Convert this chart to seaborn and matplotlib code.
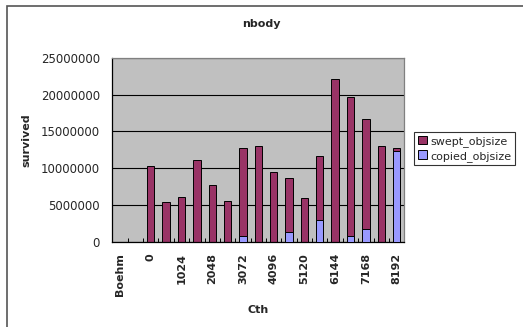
import matplotlib
matplotlib.use("Agg")
import matplotlib.pyplot as plt
from matplotlib.patches import Rectangle, Patch
import numpy as np
import pandas as pd
import seaborn as sns

# Categories along the Cth axis (only every other one is labelled)
categories = ["Boehm", "", "0", "512", "1024", "1536", "2048", "2560", "3072",
              "3584", "4096", "4608", "5120", "5632", "6144", "6656", "7168",
              "7680", "8192"]
swept_objsize = [0, 0, 10310000, 5380000, 6060000, 11120000, 7730000, 5560000,
                 12700000, 13020000, 9450000, 8630000, 5920000, 11710000,
                 22110000, 19620000, 16680000, 13020000, 12700000]
copied_objsize = [0, 0, 0, 0, 0, 0, 0, 0, 770000, 0, 0, 1360000, 0, 2940000,
                  0, 860000, 1720000, 0, 12300000]
yticks = [0, 5000000, 10000000, 15000000, 20000000, 25000000]

sns.set_style("white")
plt.rcParams["font.family"] = ["DejaVu Sans"]

W, H = 523, 327
fig = plt.figure(figsize=(W / 100, H / 100), dpi=100)
fig.patch.set_facecolor("white")

left, right, top, bottom = 112.3, 404.3, 57.7, 242.0
ax = fig.add_axes([left / W, 1 - bottom / H, (right - left) / W, (bottom - top) / H])
ax.set_facecolor("#C0C0C0")

swept_df = pd.DataFrame({"Cth": categories, "survived": swept_objsize})
copied_df = pd.DataFrame({"Cth": categories, "survived": copied_objsize})

maroon = "#993366"
lilac = "#9999FF"

ax.set_axisbelow(True)
sns.barplot(data=swept_df, x="Cth", y="survived", order=categories, color=maroon,
            width=0.48, edgecolor="black", linewidth=0.7, saturation=1, ax=ax,
            zorder=2)
sns.barplot(data=copied_df, x="Cth", y="survived", order=categories, color=lilac,
            width=0.48, edgecolor="black", linewidth=0.7, saturation=1, ax=ax,
            zorder=3)

ax.set_xlim(-0.5, len(categories) - 0.5)
ax.set_ylim(0, 25000000)
ax.set_yticks(yticks)
ax.set_yticklabels([str(v) for v in yticks], fontsize=8.5)
ax.yaxis.grid(True, color="black", linewidth=0.8)
ax.xaxis.grid(False)

ax.set_xticks(range(len(categories)))
ax.set_xticklabels([c if i % 2 == 0 else "" for i, c in enumerate(categories)],
                   rotation=90, fontsize=8, fontweight="bold")
ax.set_xticks(np.arange(-0.5, len(categories) + 0.5, 1), minor=True)
ax.tick_params(axis="x", which="major", length=0, pad=8)
ax.tick_params(axis="x", which="minor", direction="in", length=3, width=0.7,
               color="black", bottom=True)
ax.tick_params(axis="y", length=0, pad=9)

for side in ("left", "bottom"):
    ax.spines[side].set_color("black")
    ax.spines[side].set_linewidth(0.9)
for side in ("top", "right"):
    ax.spines[side].set_visible(True)
    ax.spines[side].set_color("#808080")
    ax.spines[side].set_linewidth(0.9)

ax.set_xlabel("")
ax.set_ylabel("")
fig.text(26 / W, 1 - 140 / H, "survived", rotation=90, ha="center", va="center",
         fontsize=8, fontweight="bold")
fig.text(258 / W, 1 - 310 / H, "Cth", ha="center", va="center",
         fontsize=8, fontweight="bold")
fig.text(261 / W, 1 - 24 / H, "nbody", ha="center", va="center",
         fontsize=8, fontweight="bold")

handles = [Patch(facecolor=maroon, edgecolor="black", linewidth=0.7),
           Patch(facecolor=lilac, edgecolor="black", linewidth=0.7)]
leg = fig.legend(handles, ["swept_objsize", "copied_objsize"],
                 loc="upper left", bbox_to_anchor=(414 / W, 1 - 131.7 / H),
                 fontsize=8, frameon=True, fancybox=False, borderpad=0.35,
                 handlelength=0.8, handleheight=0.8, handletextpad=0.3,
                 labelspacing=0.35, borderaxespad=0)
leg.get_frame().set_edgecolor("black")
leg.get_frame().set_linewidth(0.8)

# outer chart frame; its right and bottom sides fall past the canvas
fig.patches.append(Rectangle((7 / W, -40 / H), 600 / W, 361 / H,
                             transform=fig.transFigure, fill=False,
                             edgecolor="#555555", linewidth=1.2, clip_on=False))

fig.savefig("out.png", dpi=100)
